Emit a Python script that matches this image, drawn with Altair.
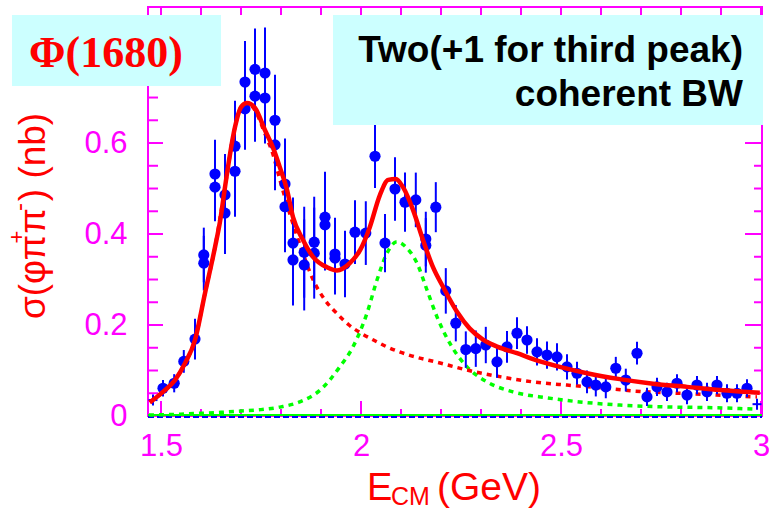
import altair as alt
import pandas as pd

# ---- measured cross section sigma(phi pi+ pi-) [nb] vs E_CM [GeV] ----
e_cm = [1.505, 1.533, 1.557, 1.585, 1.607, 1.607, 1.635, 1.635, 1.66, 1.66,
        1.685, 1.685, 1.71, 1.71, 1.735, 1.735, 1.76, 1.76, 1.785, 1.785,
        1.81, 1.81, 1.83, 1.83, 1.858, 1.858, 1.883, 1.883, 1.91, 1.91,
        1.935, 1.935, 1.96, 1.985, 2.012, 2.035, 2.06, 2.085, 2.11, 2.137,
        2.162, 2.162, 2.187, 2.212, 2.237, 2.262, 2.287, 2.312, 2.34, 2.365,
        2.39, 2.415, 2.44, 2.465, 2.49, 2.515, 2.54, 2.565, 2.587, 2.612,
        2.637, 2.662, 2.69, 2.715, 2.74, 2.765, 2.79, 2.815, 2.84, 2.865,
        2.89, 2.915, 2.94, 2.965]
sigma = [0.061, 0.072, 0.12, 0.169, 0.354, 0.336, 0.532, 0.503, 0.486, 0.446,
         0.593, 0.538, 0.734, 0.675, 0.762, 0.703, 0.754, 0.699, 0.65, 0.596,
         0.51, 0.46, 0.38, 0.343, 0.36, 0.332, 0.382, 0.358, 0.437, 0.42,
         0.356, 0.347, 0.334, 0.404, 0.402, 0.571, 0.38, 0.499, 0.47, 0.475,
         0.389, 0.375, 0.459, 0.275, 0.204, 0.146, 0.148, 0.156, 0.119, 0.152,
         0.182, 0.167, 0.141, 0.134, 0.13, 0.108, 0.094, 0.075, 0.068, 0.064,
         0.105, 0.079, 0.138, 0.042, 0.064, 0.053, 0.072, 0.046, 0.068, 0.053,
         0.068, 0.05, 0.05, 0.061]
sigma_err = [0.018, 0.02, 0.025, 0.045, 0.06, 0.06, 0.075, 0.075, 0.09, 0.09,
             0.1, 0.1, 0.09, 0.09, 0.09, 0.1, 0.1, 0.1, 0.1, 0.1,
             0.1, 0.1, 0.1, 0.1, 0.1, 0.1, 0.1, 0.1, 0.1, 0.1,
             0.08, 0.08, 0.073, 0.07, 0.07, 0.07, 0.064, 0.07, 0.065, 0.06,
             0.06, 0.06, 0.055, 0.05, 0.04, 0.04, 0.04, 0.04, 0.035, 0.035,
             0.035, 0.03, 0.03, 0.03, 0.03, 0.028, 0.025, 0.025, 0.025, 0.025,
             0.025, 0.025, 0.025, 0.02, 0.02, 0.02, 0.02, 0.02, 0.02, 0.02,
             0.02, 0.02, 0.02, 0.02]

# first and last bins (drawn as small crosses)
edge_e = [1.48, 2.99]
edge_sigma = [0.035, 0.026]
edge_err = [0.012, 0.012]

# total coherent fit
fit_e = [1.472, 1.505, 1.535, 1.56, 1.585, 1.61, 1.635, 1.648, 1.66, 1.673,
         1.685, 1.70, 1.715, 1.735, 1.76, 1.78, 1.797, 1.815, 1.83, 1.855,
         1.88, 1.915, 1.94, 1.972, 1.998, 2.022, 2.047, 2.068, 2.087, 2.105,
         2.13, 2.155, 2.18, 2.205, 2.24, 2.272, 2.305, 2.342, 2.39, 2.43,
         2.497, 2.565, 2.647, 2.73, 2.815, 2.897, 2.997]
fit_sigma = [0.030, 0.053, 0.079, 0.116, 0.167, 0.27, 0.371, 0.43, 0.503, 0.578,
             0.635, 0.679, 0.688, 0.677, 0.628, 0.59, 0.547, 0.497, 0.437, 0.387,
             0.35, 0.327, 0.32, 0.336, 0.365, 0.415, 0.485, 0.519, 0.521, 0.503,
             0.453, 0.387, 0.327, 0.284, 0.229, 0.192, 0.168, 0.152, 0.138, 0.125,
             0.108, 0.094, 0.081, 0.071, 0.064, 0.057, 0.051]

# phi(1680) Breit-Wigner component
bw1_e = [1.472, 1.505, 1.535, 1.56, 1.585, 1.61, 1.635, 1.66, 1.685, 1.70,
         1.715, 1.735, 1.76, 1.78, 1.797, 1.82, 1.85, 1.88, 1.91, 1.94,
         1.97, 2.0, 2.04, 2.065, 2.12, 2.2, 2.265, 2.35, 2.43, 2.515,
         2.6, 2.68, 2.765, 2.85, 2.93, 2.99]
bw1_sigma = [0.03, 0.053, 0.079, 0.116, 0.167, 0.27, 0.371, 0.503, 0.635, 0.679,
             0.688, 0.672, 0.62, 0.575, 0.52, 0.45, 0.37, 0.30, 0.255, 0.225,
             0.2, 0.182, 0.163, 0.152, 0.134, 0.116, 0.101, 0.086, 0.075, 0.068,
             0.062, 0.055, 0.051, 0.048, 0.044, 0.042]

# second-peak Breit-Wigner component
bw2_e = [1.47, 1.55, 1.6, 1.65, 1.7, 1.75, 1.8, 1.847, 1.898, 1.947,
         1.98, 2.015, 2.04, 2.065, 2.09, 2.115, 2.14, 2.165, 2.19, 2.222,
         2.265, 2.315, 2.38, 2.465, 2.547, 2.647, 2.765, 2.89, 2.99]
bw2_sigma = [0.002, 0.004, 0.006, 0.008, 0.011, 0.014, 0.02, 0.031, 0.057, 0.108,
             0.152, 0.226, 0.299, 0.358, 0.383, 0.369, 0.336, 0.277, 0.218, 0.16,
             0.108, 0.075, 0.053, 0.04, 0.031, 0.024, 0.02, 0.018, 0.015]

# third-peak component and baseline (both at zero)
zero_level = [0.0]

x_major_ticks = [1.5, 2.0, 2.5, 3.0]
x_minor_ticks = [1.5, 1.6, 1.7, 1.8, 1.9, 2.0, 2.1, 2.2, 2.3, 2.4, 2.5,
                 2.6, 2.7, 2.8, 2.9, 3.0]
y_major_ticks = [0.0, 0.2, 0.4, 0.6, 0.8]
y_minor_ticks = [0.0, 0.05, 0.1, 0.15, 0.2, 0.25, 0.3, 0.35, 0.4, 0.45,
                 0.5, 0.55, 0.6, 0.65, 0.7, 0.75, 0.8, 0.85]
y_label_values = [0.0, 0.2, 0.4, 0.6]

# ---- layout ----
W, H = 614, 409
MAG = "#ff00ff"
RED = "#ff0000"
BLUE = "#0000ff"
GREEN = "#00ff00"
BOX = "#ccffff"
SANS = "Liberation Sans"

xs = alt.Scale(domain=[1.4675, 3.0025], nice=False, zero=False)
ys = alt.Scale(domain=[0.0, 0.899], nice=False, zero=False)

ax_x = alt.Axis(values=x_major_ticks, title=None, grid=False, ticks=False,
                tickSize=0, domain=False, labelFont=SANS, labelFontSize=31,
                labelColor=MAG, labelPadding=15, labelFlush=False,
                labelOverlap=False, format="~g")
ax_y = alt.Axis(values=y_label_values, title=None, grid=False, ticks=False,
                tickSize=0, domain=False, labelFont=SANS, labelFontSize=31,
                labelColor=MAG, labelPadding=21, labelOverlap=False,
                format="~g")


def X(field):
    return alt.X(field, type="quantitative", scale=xs, axis=ax_x)


def Y(field):
    return alt.Y(field, type="quantitative", scale=ys, axis=ax_y)


dummy = pd.DataFrame({"k": [0]})


def text(t, x, y, size, color, font=SANS, weight="normal", align="left",
         baseline="alphabetic", angle=0):
    return alt.Chart(dummy).mark_text(
        font=font, fontSize=size, fontWeight=weight, color=color,
        align=align, baseline=baseline, angle=angle,
    ).encode(x=alt.value(x), y=alt.value(y), text=alt.value(t))


def box(x0, y0, x1, y1):
    return alt.Chart(dummy).mark_rect(color=BOX).encode(
        x=alt.value(x0), x2=alt.value(x1), y=alt.value(y0), y2=alt.value(y1))


# frame ticks, all pointing inwards
yt_major = pd.DataFrame({"v": y_major_ticks})
yt_minor = pd.DataFrame({"v": y_minor_ticks})
xt_major = pd.DataFrame({"v": x_major_ticks})
xt_minor = pd.DataFrame({"v": x_minor_ticks})


def yrule(df, a, b):
    return alt.Chart(df).mark_rule(color=MAG, strokeWidth=2).encode(
        y=Y("v"), x=alt.value(a), x2=alt.value(b))


def xrule(df, a, b):
    return alt.Chart(df).mark_rule(color=MAG, strokeWidth=2).encode(
        x=X("v"), y=alt.value(a), y2=alt.value(b))


ticks = [
    yrule(yt_major, 0, 15), yrule(yt_minor, 0, 10),
    yrule(yt_major, W, W - 17), yrule(yt_minor, W, W - 8),
    xrule(xt_minor, 0, 8),
    xrule(xt_major, H, H - 15), xrule(xt_minor, H, H - 7),
]

# zero lines
zero_df = pd.DataFrame({"z": zero_level})
green_zero = alt.Chart(zero_df).mark_rule(color=GREEN, strokeWidth=2, yOffset=-1).encode(
    y=Y("z"), x=alt.value(0), x2=alt.value(W))
blue_zero = alt.Chart(zero_df).mark_rule(color=BLUE, strokeWidth=2, strokeDash=[6, 3], yOffset=1).encode(
    y=Y("z"), x=alt.value(0), x2=alt.value(W))

# components
bw2 = alt.Chart(pd.DataFrame({"e": bw2_e, "s": bw2_sigma})).mark_line(
    color=GREEN, strokeWidth=3.5, strokeDash=[5, 5], interpolate="monotone"
).encode(x=X("e"), y=Y("s"))
bw1 = alt.Chart(pd.DataFrame({"e": bw1_e, "s": bw1_sigma})).mark_line(
    color=RED, strokeWidth=3.5, strokeDash=[5, 5], interpolate="monotone"
).encode(x=X("e"), y=Y("s"))

# data with error bars
pts = pd.DataFrame({"e": e_cm, "s": sigma, "d": sigma_err})
errbars = alt.Chart(pts).transform_calculate(
    lo="datum.s - datum.d", hi="datum.s + datum.d"
).mark_rule(color=BLUE, strokeWidth=2).encode(x=X("e"), y=Y("lo:Q"), y2="hi:Q")
dots = alt.Chart(pts).mark_circle(color=BLUE, size=125, opacity=1).encode(
    x=X("e"), y=Y("s"))

edges = pd.DataFrame({"e": edge_e, "s": edge_sigma, "d": edge_err})
edge_bars = alt.Chart(edges).transform_calculate(
    lo="datum.s - datum.d", hi="datum.s + datum.d"
).mark_rule(color=BLUE, strokeWidth=2).encode(x=X("e"), y=Y("lo:Q"), y2="hi:Q")
edge_marks = alt.Chart(edges).mark_point(
    shape="stroke", color=BLUE, size=80, strokeWidth=2, filled=False, opacity=1
).encode(x=X("e"), y=Y("s"))

fit = alt.Chart(pd.DataFrame({"e": fit_e, "s": fit_sigma})).mark_line(
    color=RED, strokeWidth=4.5, interpolate="monotone"
).encode(x=X("e"), y=Y("s"))

# annotations
annotations = [
    box(-136, 8, 73, 79),
    text("\u03a6(1680)", -42, 60, 44, RED, font="Liberation Serif",
         weight="bold", align="center"),
    box(185, 8, 615, 118),
    text("Two(+1 for third peak)", 595, 55, 37, "black", weight="bold",
         align="right"),
    text("coherent BW", 595, 99, 37, "black", weight="bold", align="right"),
    # x title: E_CM (GeV)
    text("E", 219, 493, 38, RED),
    text("CM", 243, 498, 25, RED),
    text("(GeV)", 289, 493, 39, RED),
    # y title: sigma(phi pi+ pi-) (nb)
    text("\u03c3(\u03c6\u03c0", -103, 270, 37, RED, align="center", angle=270),
    text("\u03c0", -103, 214, 37, RED, align="center", angle=270),
    text(") (nb)", -103, 150, 37, RED, align="center", angle=270),
    text("+", -131, 230, 22, RED, align="center", baseline="middle", angle=270),
    text("-", -128, 200, 24, RED, align="center", baseline="middle", angle=270),
]

chart = alt.layer(
    *ticks, green_zero, blue_zero, bw2, bw1, errbars, dots, edge_bars,
    edge_marks, fit, *annotations
).properties(
    width=W, height=H,
    padding={"left": 148, "top": 7, "right": 7, "bottom": 97},
    autosize=alt.AutoSizeParams(type="none"),
    background="white",
).configure_view(stroke=MAG, strokeWidth=2)

chart.save("out.html", embed_options={"renderer": "svg", "actions": False})
